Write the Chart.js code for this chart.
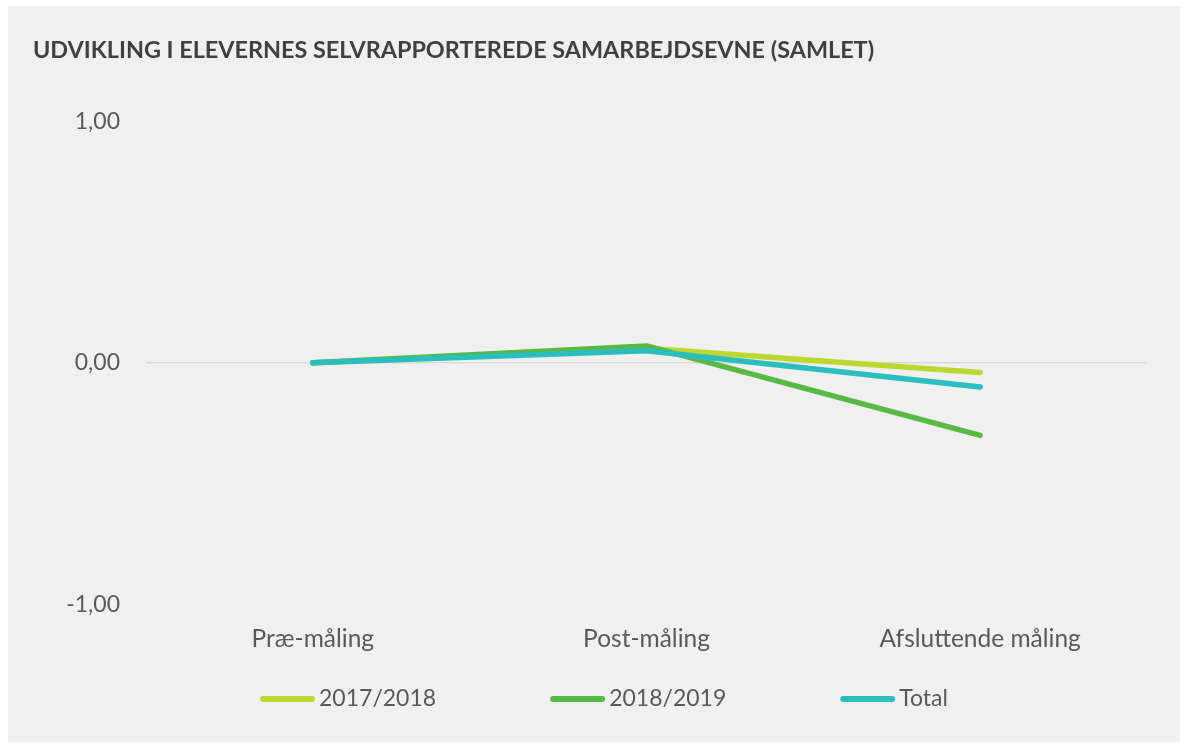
<!DOCTYPE html>
<html>
<head>
<meta charset="utf-8">
<script src="https://cdn.jsdelivr.net/npm/chart.js@4.4.1/dist/chart.umd.min.js"></script>
<style>
    html, body { margin: 0; padding: 0; background: #ffffff; }
    #panel {
        position: absolute;
        left: 8px;
        top: 6px;
        width: 1172px;
        height: 736px;
        background: #f0f0f0;
    }
</style>
</head>
<body>
<div id="panel"><canvas id="chart" width="1172" height="736"></canvas></div>
<script>
    // Data
    const categories = ['Præ-måling', 'Post-måling', 'Afsluttende måling'];
    const series2017 = [0.00, 0.06, -0.04];
    const series2018 = [0.00, 0.07, -0.30];
    const seriesTotal = [0.00, 0.05, -0.10];
    const yTicks = [-1, 0, 1];

    const colors = {
        y2017: '#bed730',
        y2018: '#58b947',
        total: '#2cbebe',
        text: '#595959',
        title: '#404040',
        zero: '#d9d9d9'
    };

    const fontFamily = 'Lato, "Open Sans", sans-serif';

    // order: like Excel, the last series is painted on top
    function lineSet(label, data, color, order) {
        return {
            label: label,
            data: data,
            order: order,
            borderColor: color,
            backgroundColor: color,
            borderWidth: 5.5,
            borderCapStyle: 'round',
            borderJoinStyle: 'round',
            pointRadius: 0,
            pointHoverRadius: 0,
            tension: 0
        };
    }

    // Legend drawn by hand: Excel spaces the items wider than Chart.js can
    // without also adding the same space above and below
    const lineLegend = {
        id: 'lineLegend',
        afterDraw(chart) {
            const c = chart.ctx;
            const boxW = 55, boxH = 6, gapText = 4, gapItem = 114;
            const y = 693;
            c.save();
            c.font = '23px ' + fontFamily;
            c.textBaseline = 'middle';
            c.textAlign = 'left';
            const items = chart.data.datasets.map(ds => ({
                label: ds.label,
                color: ds.borderColor,
                w: c.measureText(ds.label).width
            }));
            const total = items.reduce((s, it) => s + boxW + gapText + it.w, 0) + gapItem * (items.length - 1);
            let x = chart.width / 2 + 10 - total / 2;
            items.forEach(it => {
                c.strokeStyle = it.color;
                c.lineWidth = boxH;
                c.lineCap = 'round';
                c.beginPath();
                c.moveTo(x + boxH / 2, y);
                c.lineTo(x + boxW - boxH / 2, y);
                c.stroke();
                c.fillStyle = colors.text;
                c.fillText(it.label, x + boxW + gapText, y);
                x += boxW + gapText + it.w + gapItem;
            });
            c.restore();
        }
    };

    const ctx = document.getElementById('chart').getContext('2d');

    new Chart(ctx, {
        type: 'line',
        data: {
            labels: categories,
            datasets: [
                lineSet('2017/2018', series2017, colors.y2017, 2),
                lineSet('2018/2019', series2018, colors.y2018, 1),
                lineSet('Total', seriesTotal, colors.total, 0)
            ]
        },
        options: {
            responsive: false,
            animation: false,
            layout: {
                padding: { left: 25, right: 33, top: 0, bottom: 68 }
            },
            plugins: {
                title: {
                    display: true,
                    text: 'UDVIKLING I ELEVERNES SELVRAPPORTEREDE SAMARBEJDSEVNE (SAMLET)',
                    align: 'start',
                    color: colors.title,
                    font: { family: fontFamily, size: 23.4, weight: 'bold' },
                    padding: { top: 30, bottom: 57 }
                },
                legend: { display: false },
                tooltip: { enabled: false }
            },
            scales: {
                x: {
                    offset: true,
                    grid: { display: false, drawTicks: false },
                    border: { display: false },
                    ticks: {
                        color: colors.text,
                        font: { family: fontFamily, size: 24.5 },
                        padding: 20
                    }
                },
                y: {
                    min: -1,
                    max: 1,
                    afterFit: (scale) => { scale.width = 113; },
                    afterBuildTicks: (scale) => {
                        scale.ticks = yTicks.map(v => ({ value: v }));
                    },
                    grid: {
                        drawTicks: false,
                        color: (c) => (c.tick && c.tick.value === 0) ? colors.zero : 'rgba(0,0,0,0)',
                        lineWidth: 1.5
                    },
                    border: { display: false },
                    ticks: {
                        color: colors.text,
                        font: { family: fontFamily, size: 23 },
                        padding: 26,
                        callback: (value) => value.toFixed(2).replace('.', ',')
                    }
                }
            }
        },
        plugins: [lineLegend]
    });
</script>
</body>
</html>
